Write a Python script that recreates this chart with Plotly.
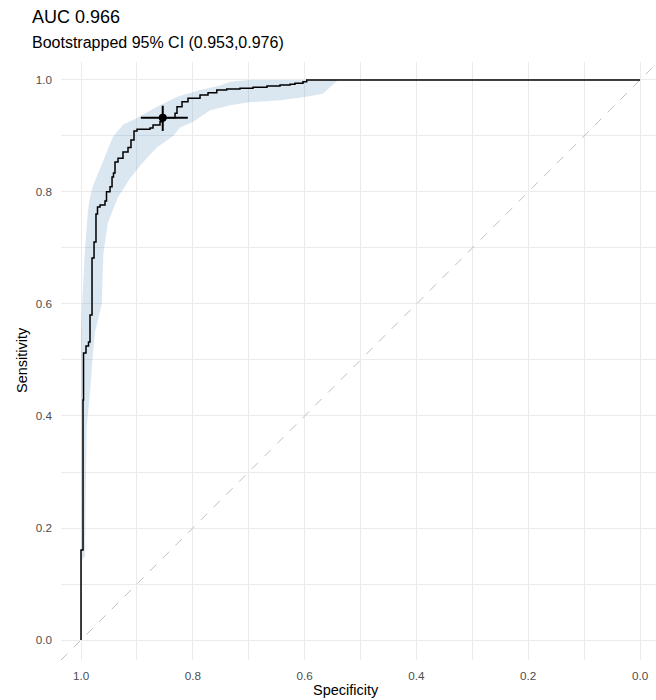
import plotly.graph_objects as go

# ROC curve corner points (specificity, sensitivity), joined as a vertical-then-horizontal step path
roc_spec = [1.000, 0.9964, 0.9955, 0.9911, 0.9866, 0.9839, 0.9803, 0.9767, 0.9732, 0.9705,
            0.9660, 0.9571, 0.9544, 0.9481, 0.9445, 0.9419, 0.9392, 0.9338, 0.9249, 0.9159,
            0.9106, 0.9052, 0.8998, 0.8766, 0.8712, 0.8587, 0.8538, 0.8318, 0.8283, 0.8193,
            0.8086, 0.7871, 0.7728, 0.7572, 0.7394, 0.7156, 0.6923, 0.6673, 0.6440, 0.6261,
            0.6172, 0.6029, 0.5962, 0.000]
roc_sens = [0.000, 0.1607, 0.4286, 0.5125, 0.5250, 0.5321, 0.5804, 0.6821, 0.7107, 0.7607,
            0.7732, 0.7768, 0.7839, 0.8005, 0.8095, 0.8268, 0.8339, 0.8536, 0.8602, 0.8714,
            0.8795, 0.8929, 0.9089, 0.9120, 0.9143, 0.9196, 0.9255, 0.9327, 0.9405, 0.9524,
            0.9613, 0.9673, 0.9732, 0.9773, 0.9821, 0.9839, 0.9852, 0.9870, 0.9893, 0.9911,
            0.9923, 0.9941, 0.9970, 1.000]

# Bootstrapped 95% confidence band of sensitivity: upper bound
ci_hi_spec = [1.000, 1.000, 0.998, 0.993, 0.9875, 0.984, 0.979, 0.971, 0.961, 0.943,
              0.925, 0.900, 0.864, 0.828, 0.787, 0.751, 0.733, 0.700, 0.542]
ci_hi_sens = [0.140, 0.550, 0.600, 0.696, 0.767, 0.790, 0.810, 0.830, 0.855, 0.898,
              0.920, 0.932, 0.952, 0.970, 0.982, 0.990, 0.997, 1.000, 1.000]
# ... and lower bound
ci_lo_spec = [0.542, 0.567, 0.596, 0.644, 0.703, 0.733, 0.769, 0.800, 0.823, 0.835,
              0.864, 0.889, 0.912, 0.934, 0.952, 0.960, 0.963, 0.975, 0.978, 0.984,
              0.990, 0.9928, 1.000]
ci_lo_sens = [0.998, 0.976, 0.970, 0.964, 0.960, 0.955, 0.946, 0.925, 0.915, 0.900,
              0.880, 0.853, 0.825, 0.790, 0.745, 0.690, 0.600, 0.550, 0.520, 0.440,
              0.380, 0.150, 0.140]

# Best threshold with its specificity / sensitivity intervals
best_spec = 0.8538
best_sens = 0.9327
best_spec_ci = [0.809, 0.893]
best_sens_ci = [0.909, 0.954]

auc_title = "AUC 0.966"
auc_subtitle = "Bootstrapped 95% CI (0.953,0.976)"

tick_vals = [0.0, 0.2, 0.4, 0.6, 0.8, 1.0]
tick_text = ["0.0", "0.2", "0.4", "0.6", "0.8", "1.0"]

x_range = [1.0358, -0.0286]
y_range = [-0.0357, 1.0321]

FONT = "Liberation Sans, Arial, Helvetica, sans-serif"
GRID = "#ebebeb"

fig = go.Figure()

# confidence band as a closed polygon
fig.add_trace(go.Scatter(
    x=ci_hi_spec + ci_lo_spec,
    y=ci_hi_sens + ci_lo_sens,
    mode="lines", fill="toself",
    fillcolor="rgba(70,130,180,0.2)",
    line=dict(width=0), hoverinfo="skip", showlegend=False,
))

# chance diagonal across the whole panel
fig.add_trace(go.Scatter(
    x=[x_range[0], x_range[1]],
    y=[1 - x_range[0], 1 - x_range[1]],
    mode="lines",
    line=dict(color="#c0c0c0", width=1, dash="dash"),
    hoverinfo="skip", showlegend=False,
))

# ROC curve
fig.add_trace(go.Scatter(
    x=roc_spec, y=roc_sens, mode="lines",
    line=dict(color="black", width=1.5, shape="vh"),
    showlegend=False,
))

# best threshold point with crosshair intervals
fig.add_trace(go.Scatter(
    x=[best_spec], y=[best_sens], mode="markers",
    marker=dict(color="black", size=8),
    error_x=dict(type="data", symmetric=False,
                 array=[best_spec_ci[1] - best_spec],
                 arrayminus=[best_spec - best_spec_ci[0]],
                 color="black", thickness=2, width=0),
    error_y=dict(type="data", symmetric=False,
                 array=[best_sens_ci[1] - best_sens],
                 arrayminus=[best_sens - best_sens_ci[0]],
                 color="black", thickness=2, width=0),
    showlegend=False,
))

axis_common = dict(
    tickvals=tick_vals, ticktext=tick_text,
    showgrid=True, gridcolor=GRID, gridwidth=1.2,
    minor=dict(dtick=0.1, tick0=0, showgrid=True, gridcolor=GRID, gridwidth=0.7),
    zeroline=False, showline=False, ticks="",
    tickfont=dict(family=FONT, size=11.7, color="#4d4d4d"),
    automargin=False, fixedrange=True,
)

fig.update_layout(
    width=656, height=700,
    margin=dict(l=61, r=0, t=62, b=40),
    paper_bgcolor="white", plot_bgcolor="white",
    xaxis=dict(range=x_range, ticklabelstandoff=7, **axis_common),
    yaxis=dict(range=y_range, ticklabelstandoff=8, **axis_common),
    font=dict(family=FONT, color="black"),
    annotations=[
        dict(text=auc_title, xref="paper", yref="paper",
             x=-31 / 595, y=1 + 45 / 598, xanchor="left", yanchor="middle",
             showarrow=False, font=dict(family=FONT, size=18, color="black")),
        dict(text=auc_subtitle, xref="paper", yref="paper",
             x=-31 / 595, y=1 + 19 / 598, xanchor="left", yanchor="middle",
             showarrow=False, font=dict(family=FONT, size=16, color="black")),
        dict(text="Specificity", xref="paper", yref="paper",
             x=(346 - 61) / 595, y=-(690 - 660) / 598, xanchor="center", yanchor="middle",
             showarrow=False, font=dict(family=FONT, size=14.5, color="black")),
        dict(text="Sensitivity", xref="paper", yref="paper",
             x=-(61 - 22) / 595, y=(660 - 360) / 598, xanchor="center", yanchor="middle",
             textangle=-90, showarrow=False,
             font=dict(family=FONT, size=14.5, color="black")),
    ],
)

fig.write_html("out.html")
